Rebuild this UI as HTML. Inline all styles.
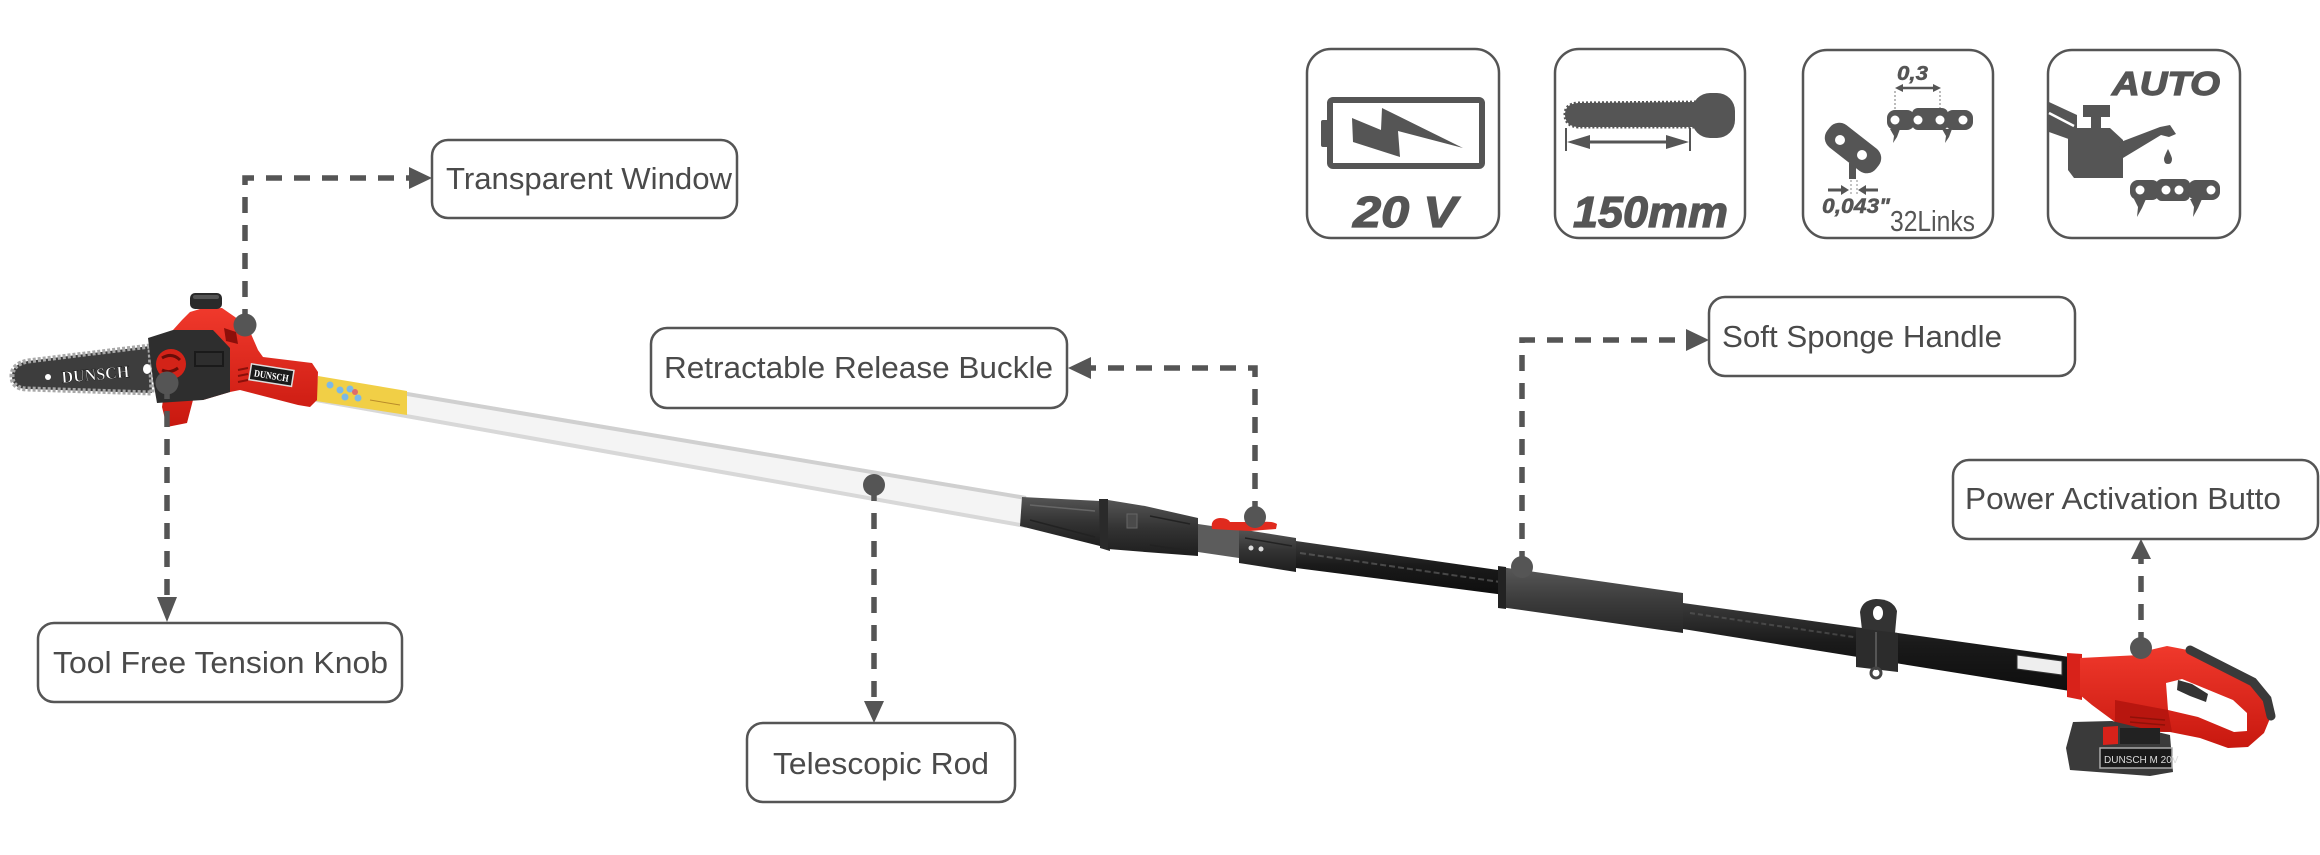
<!DOCTYPE html>
<html>
<head>
<meta charset="utf-8">
<style>
  html,body{margin:0;padding:0;background:#fff;}
  body{width:2320px;height:855px;overflow:hidden;}
  svg{display:block;}
  .lbl{font-family:"Liberation Sans",Arial,sans-serif;font-size:31px;fill:#4a4a4a;}
  .box{fill:#fff;stroke:#555;stroke-width:2.5;}
  .conn{fill:none;stroke:#555;stroke-width:5.5;stroke-dasharray:16 12;}
  .ic{fill:#555;}
  .bi{font-family:"Liberation Sans",Arial,sans-serif;font-weight:bold;font-style:italic;fill:#555;stroke:#555;stroke-width:1.2;}
</style>
</head>
<body>
<svg width="2320" height="855" viewBox="0 0 2320 855" xmlns="http://www.w3.org/2000/svg">
<defs>
  <linearGradient id="blk" x1="0" y1="0" x2="0" y2="1">
    <stop offset="0" stop-color="#3a3a3a"/>
    <stop offset="0.45" stop-color="#1a1a1a"/>
    <stop offset="1" stop-color="#0e0e0e"/>
  </linearGradient>
  <linearGradient id="cpl" x1="0" y1="0" x2="0" y2="1">
    <stop offset="0" stop-color="#555"/>
    <stop offset="0.5" stop-color="#333"/>
    <stop offset="1" stop-color="#1e1e1e"/>
  </linearGradient>
  <linearGradient id="spg" x1="0" y1="0" x2="0" y2="1">
    <stop offset="0" stop-color="#585858"/>
    <stop offset="0.5" stop-color="#3c3c3c"/>
    <stop offset="1" stop-color="#262626"/>
  </linearGradient>
  <linearGradient id="red" x1="0" y1="0" x2="0" y2="1">
    <stop offset="0" stop-color="#f0392c"/>
    <stop offset="1" stop-color="#c8180f"/>
  </linearGradient>
</defs>

<!-- ================= ICON BOXES ================= -->
<!-- Box 1: battery 20V -->
<rect class="box" x="1307" y="49" width="192" height="189" rx="24"/>
<rect x="1330" y="100" width="152" height="66" rx="3" fill="none" stroke="#555" stroke-width="6"/>
<rect x="1321" y="120" width="8" height="27" rx="2" class="ic"/>
<polygon class="ic" points="1352,118 1381,130 1382,108 1463,148 1398,131 1400,157 1353,142"/>
<text class="bi" x="1353" y="227" font-size="44" textLength="104" lengthAdjust="spacingAndGlyphs">20 V</text>

<!-- Box 2: bar 150mm -->
<rect class="box" x="1555" y="49" width="190" height="189" rx="24"/>
<path class="ic" d="M1700,102 L1578,103 Q1565,104 1565,114.5 Q1565,126 1578,127 L1700,127 Z" stroke="#555" stroke-width="3" stroke-dasharray="2 2"/>
<rect class="ic" x="1692" y="93" width="43" height="45" rx="18"/>
<line x1="1566" y1="128" x2="1566" y2="151" stroke="#555" stroke-width="2"/>
<line x1="1690" y1="128" x2="1690" y2="151" stroke="#555" stroke-width="2"/>
<line x1="1580" y1="142" x2="1676" y2="142" stroke="#555" stroke-width="3"/>
<polygon class="ic" points="1567,142 1590,135 1590,149"/>
<polygon class="ic" points="1689,142 1666,135 1666,149"/>
<text class="bi" x="1573" y="227" font-size="44" textLength="155" lengthAdjust="spacingAndGlyphs">150mm</text>

<!-- Box 3: chain -->
<rect class="box" x="1803" y="50" width="190" height="188" rx="24"/>
<text class="bi" x="1897" y="80" font-size="20" textLength="31" lengthAdjust="spacingAndGlyphs" style="stroke-width:0.5">0,3</text>
<line x1="1900" y1="88" x2="1936" y2="88" stroke="#555" stroke-width="2.5"/>
<polygon class="ic" points="1895,88 1903,84 1903,92"/>
<polygon class="ic" points="1941,88 1933,84 1933,92"/>
<line x1="1895" y1="91" x2="1895" y2="110" stroke="#777" stroke-width="1" stroke-dasharray="2 2"/>
<line x1="1940" y1="91" x2="1940" y2="110" stroke="#777" stroke-width="1" stroke-dasharray="2 2"/>
<rect class="ic" x="1887" y="110" width="28" height="20" rx="8"/>
<rect class="ic" x="1912" y="108" width="36" height="22" rx="6"/>
<rect class="ic" x="1945" y="110" width="28" height="20" rx="8"/>
<circle cx="1895" cy="120" r="4.5" fill="#fff"/>
<circle cx="1918" cy="120" r="4.5" fill="#fff"/>
<circle cx="1940" cy="120" r="4.5" fill="#fff"/>
<circle cx="1963" cy="120" r="4.5" fill="#fff"/>
<path class="ic" d="M1890,129 L1900,129 L1897,137 L1893,143 L1894,136 Z"/>
<path class="ic" d="M1942,129 L1952,129 L1949,137 L1945,143 L1946,136 Z"/>
<rect class="ic" x="1822" y="134" width="62" height="28" rx="12" transform="rotate(38 1853 148)"/>
<circle cx="1840" cy="140" r="5" fill="#fff"/>
<circle cx="1862" cy="155" r="5" fill="#fff"/>
<rect class="ic" x="1849" y="163" width="7" height="16"/>
<line x1="1851" y1="180" x2="1851" y2="196" stroke="#888" stroke-width="1" stroke-dasharray="2 2"/>
<line x1="1857" y1="180" x2="1857" y2="196" stroke="#888" stroke-width="1" stroke-dasharray="2 2"/>
<line x1="1828" y1="190" x2="1842" y2="190" stroke="#555" stroke-width="3"/>
<polygon class="ic" points="1849,190 1841,185 1841,195"/>
<line x1="1864" y1="190" x2="1878" y2="190" stroke="#555" stroke-width="3"/>
<polygon class="ic" points="1858,190 1866,185 1866,195"/>
<text class="bi" x="1822" y="213" font-size="21" textLength="68" lengthAdjust="spacingAndGlyphs" style="stroke-width:0.5">0,043"</text>
<text x="1890" y="231" font-family="Liberation Sans, Arial, sans-serif" font-size="29" fill="#555" textLength="85" lengthAdjust="spacingAndGlyphs">32Links</text>

<!-- Box 4: auto oil -->
<rect class="box" x="2048" y="50" width="192" height="188" rx="24"/>
<text class="bi" x="2112" y="95" font-size="33" textLength="108" lengthAdjust="spacingAndGlyphs">AUTO</text>
<polygon class="ic" points="2049,102 2077,115 2077,142 2049,132"/>
<line x1="2049" y1="113" x2="2074" y2="126" stroke="#fff" stroke-width="2.5"/>
<rect class="ic" x="2083" y="105" width="27" height="12"/>
<rect class="ic" x="2091" y="116" width="10" height="13"/>
<polygon class="ic" points="2068,128 2110,128 2123,140 2123,178 2074,178 2068,170"/>
<polygon class="ic" points="2118,143 2160,127 2170,125 2176,134 2169,137 2161,135 2123,158"/>
<path class="ic" d="M2168,149 Q2172,157 2172,159 Q2172,164 2168,164 Q2164,164 2164,159 Q2164,157 2168,149 Z"/>
<rect class="ic" x="2130" y="180" width="30" height="20" rx="8"/>
<rect class="ic" x="2156" y="179" width="34" height="22" rx="6"/>
<rect class="ic" x="2188" y="180" width="32" height="20" rx="8"/>
<circle cx="2140" cy="190" r="4.5" fill="#fff"/>
<circle cx="2166" cy="190" r="4.5" fill="#fff"/>
<circle cx="2179" cy="190" r="4.5" fill="#fff"/>
<circle cx="2211" cy="190" r="4.5" fill="#fff"/>
<path class="ic" d="M2134,199 L2146,199 L2142,208 L2137,217 L2138,207 Z"/>
<path class="ic" d="M2190,199 L2202,199 L2198,208 L2193,217 L2194,207 Z"/>

<!-- ================= PRODUCT ================= -->
<!-- white telescopic rod -->
<polygon points="318,377 1026,496 1026,528 316,402" fill="#f4f4f4"/>
<line x1="318" y1="379" x2="1026" y2="498" stroke="#d0d0d0" stroke-width="4"/>
<line x1="316" y1="400" x2="1026" y2="526" stroke="#d8d8d8" stroke-width="4"/>
<!-- sticker -->
<polygon points="318,376 407,391 407,415 316,401" fill="#f1cf46"/>
<circle cx="330" cy="385" r="3.5" fill="#7cb9e6"/>
<circle cx="340" cy="390" r="3.5" fill="#7cb9e6"/>
<circle cx="350" cy="389" r="3.5" fill="#7cb9e6"/>
<circle cx="345" cy="397" r="3.5" fill="#7cb9e6"/>
<circle cx="358" cy="398" r="3.5" fill="#7cb9e6"/>
<circle cx="355" cy="392" r="3" fill="#e06b6b"/>
<line x1="370" y1="400" x2="400" y2="405" stroke="#b98b2a" stroke-width="1"/>

<!-- coupling -->
<polygon points="1022,497 1100,501 1104,547 1020,526" fill="url(#cpl)"/>
<line x1="1030" y1="505" x2="1095" y2="511" stroke="#666" stroke-width="1.5"/>
<line x1="1030" y1="520" x2="1095" y2="537" stroke="#222" stroke-width="1.5"/>
<polygon points="1099,499 1108,499 1110,551 1100,548" fill="#2a2a2a"/>
<polygon points="1108,500 1145,506 1198,518 1198,556 1145,552 1108,549" fill="url(#cpl)"/>
<rect x="1127" y="514" width="10" height="14" fill="#4a4a4a" stroke="#666" stroke-width="1"/>
<line x1="1150" y1="516" x2="1190" y2="524" stroke="#222" stroke-width="1.5"/>
<line x1="1150" y1="545" x2="1190" y2="551" stroke="#222" stroke-width="1.5"/>
<polygon points="1198,524 1239,530 1239,558 1198,552" fill="#5c5c5c"/>
<polygon points="1239,529 1296,538 1296,572 1239,563" fill="url(#cpl)"/>
<circle cx="1251" cy="548" r="2.5" fill="#ddd"/>
<circle cx="1261" cy="549" r="2.5" fill="#ddd"/>
<line x1="1245" y1="538" x2="1292" y2="546" stroke="#222" stroke-width="1.5"/>
<!-- red buckle -->
<path d="M1212,529 Q1210,519 1220,518 Q1228,518 1230,522 L1262,522 Q1272,521 1277,524 L1276,529 L1250,531 L1230,530 Z" fill="#e02a1e"/>
<!-- black rod 1 -->
<polygon points="1296,541 1505,571 1505,595 1296,568" fill="url(#blk)"/>
<line x1="1300" y1="553" x2="1500" y2="582" stroke="#6a6a6a" stroke-width="2" opacity="0.6" stroke-dasharray="6 3"/>
<!-- sponge -->
<polygon points="1500,567 1683,593 1683,633 1500,607" fill="url(#spg)"/>
<polygon points="1498,566 1506,567 1506,609 1498,608" fill="#222"/>
<!-- black rod 2 -->
<polygon points="1683,603 2070,657 2070,691 1683,629" fill="url(#blk)"/>
<line x1="1690" y1="613" x2="1860" y2="638" stroke="#666" stroke-width="2" opacity="0.5" stroke-dasharray="5 3"/>
<!-- hook bracket -->
<path d="M1862,630 L1860,612 Q1862,600 1876,599 Q1893,599 1897,611 L1895,633 Z" fill="#333"/>
<ellipse cx="1878" cy="613" rx="5" ry="7" fill="#fff"/>
<polygon points="1856,628 1898,633 1898,672 1856,667" fill="#2c2c2c"/>
<line x1="1876" y1="632" x2="1876" y2="670" stroke="#555" stroke-width="2"/>
<circle cx="1876" cy="673" r="5" fill="none" stroke="#444" stroke-width="3"/>
<!-- rod label -->
<polygon points="2017,655 2062,661 2062,675 2017,669" fill="#eee" stroke="#333" stroke-width="1"/>
<!-- red handle -->
<polygon points="2067,653 2082,654 2082,700 2067,697" fill="#d8221a"/>
<polygon fill="url(#red)" points="2080,658 2140,655 2150,650 2167,646 2193,651 2253,682 2267,699 2271,716 2264,733 2248,747 2228,748 2200,738 2170,732 2130,731 2115,722 2092,705 2080,695"/>
<polygon fill="#fff" points="2166,683 2182,679 2233,700 2247,713 2247,731 2234,732 2198,717 2168,710"/>
<path d="M2190,650 L2253,682 L2267,699 L2271,716" fill="none" stroke="#3a3a3a" stroke-width="9" stroke-linecap="round"/>
<polygon fill="#333" points="2178,680 2192,684 2208,694 2206,702 2190,696 2177,690"/>
<polygon fill="#b8160f" points="2115,700 2168,710 2172,732 2130,731 2115,722"/>
<line x1="2130" y1="717" x2="2165" y2="720" stroke="#8f1109" stroke-width="1.5"/>
<line x1="2130" y1="722" x2="2165" y2="725" stroke="#8f1109" stroke-width="1.5"/>
<!-- battery -->
<polygon fill="#3a3a3a" points="2073,722 2112,721 2170,735 2173,772 2150,776 2070,770 2066,748"/>
<polygon fill="#d8221a" points="2103,727 2118,726 2118,744 2103,745"/>
<rect x="2120" y="728" width="40" height="16" fill="#222"/>
<rect x="2100" y="748" width="72" height="20" fill="#1a1a1a" stroke="#aaa" stroke-width="1.5"/>
<text x="2104" y="763" font-family="Liberation Sans, sans-serif" font-size="10" fill="#ddd">DUNSCH  M 20V</text>

<!-- chainsaw head -->
<path d="M150,346 L28,361 Q12,364 12,376 Q12,389 28,389 L152,393 Z" fill="#3d3d3d" stroke="#a8a8a8" stroke-width="5" stroke-dasharray="3 2"/>
<circle cx="48" cy="377" r="3" fill="#fff"/>
<text x="62" y="383" font-family="Liberation Serif, serif" font-weight="bold" font-size="17" fill="#fff" stroke="#222" stroke-width="0.6" textLength="68" lengthAdjust="spacingAndGlyphs" transform="rotate(-5 62 383)">DUNSCH</text>
<ellipse cx="147" cy="369" rx="4" ry="5" fill="#fff"/>
<!-- red housing -->
<polygon fill="url(#red)" points="173,330 182,320 190,312 200,309 222,308 235,317 248,327 258,350 263,357 312,363 318,372 317,400 310,407 298,405 240,390 230,392 203,400 193,400 187,423 167,427 162,407"/>
<!-- window -->
<polygon points="224,328 236,332 238,344 226,341" fill="#8c0f0a"/>
<!-- top knob -->
<rect x="190" y="293" width="32" height="16" rx="5" fill="#2a2a2a"/>
<rect x="193" y="295" width="26" height="4" rx="2" fill="#555"/>
<!-- cover -->
<polygon fill="#2e2e2e" points="148,338 173,330 213,330 230,348 230,392 203,400 157,403 153,380"/>
<rect x="195" y="352" width="28" height="14" fill="none" stroke="#1a1a1a" stroke-width="2"/>
<circle cx="171" cy="364" r="15" fill="#d42318"/>
<path d="M162,358 Q172,352 180,360" fill="none" stroke="#6a0d08" stroke-width="3"/>
<path d="M162,370 Q170,374 178,368" fill="none" stroke="#6a0d08" stroke-width="3"/>
<!-- vents -->
<line x1="238" y1="370" x2="248" y2="368" stroke="#8a100a" stroke-width="2"/>
<line x1="238" y1="376" x2="248" y2="374" stroke="#8a100a" stroke-width="2"/>
<line x1="238" y1="382" x2="248" y2="380" stroke="#8a100a" stroke-width="2"/>
<!-- handle label -->
<g transform="rotate(9 271 375)">
  <rect x="250" y="367" width="43" height="16" fill="#1a1a1a" stroke="#ddd" stroke-width="1.5"/>
  <text x="254" y="379" font-family="Liberation Serif, serif" font-weight="bold" font-size="10" fill="#fff" textLength="35" lengthAdjust="spacingAndGlyphs">DUNSCH</text>
</g>

<!-- ================= CONNECTORS ================= -->
<path class="conn" d="M245,325 V178 H411"/>
<polygon class="ic" points="409,167 432,178 409,189"/>
<path class="conn" d="M167,383 V598"/>
<polygon class="ic" points="157,597 177,597 167,622"/>
<path class="conn" d="M874,485 V703"/>
<polygon class="ic" points="864,701 884,701 874,723"/>
<path class="conn" d="M1255,517 V368 H1090"/>
<polygon class="ic" points="1091,357 1091,379 1068,368"/>
<path class="conn" d="M1522,567 V340 H1688"/>
<polygon class="ic" points="1686,329 1686,351 1709,340"/>
<path class="conn" d="M2141,648 V557"/>
<polygon class="ic" points="2131,559 2151,559 2141,539"/>

<circle cx="245" cy="325" r="11.5" class="ic"/>
<circle cx="167" cy="383" r="11.5" class="ic"/>
<circle cx="874" cy="485" r="11" class="ic"/>
<circle cx="1255" cy="517" r="11" class="ic"/>
<circle cx="1522" cy="567" r="11" class="ic"/>
<circle cx="2141" cy="648" r="11" class="ic"/>

<!-- ================= LABEL BOXES ================= -->
<rect class="box" x="432" y="140" width="305" height="78" rx="16"/>
<text class="lbl" x="446" y="189" textLength="286" lengthAdjust="spacingAndGlyphs">Transparent Window</text>

<rect class="box" x="651" y="328" width="416" height="80" rx="16"/>
<text class="lbl" x="664" y="378" textLength="389" lengthAdjust="spacingAndGlyphs">Retractable Release Buckle</text>

<rect class="box" x="747" y="723" width="268" height="79" rx="16"/>
<text class="lbl" x="773" y="774" textLength="216" lengthAdjust="spacingAndGlyphs">Telescopic Rod</text>

<rect class="box" x="38" y="623" width="364" height="79" rx="16"/>
<text class="lbl" x="53" y="673" textLength="335" lengthAdjust="spacingAndGlyphs">Tool Free Tension Knob</text>

<rect class="box" x="1709" y="297" width="366" height="79" rx="16"/>
<text class="lbl" x="1722" y="347" textLength="280" lengthAdjust="spacingAndGlyphs">Soft Sponge Handle</text>

<rect class="box" x="1953" y="460" width="365" height="79" rx="16"/>
<text class="lbl" x="1965" y="509" textLength="316" lengthAdjust="spacingAndGlyphs">Power Activation Butto</text>
</svg>
</body>
</html>
